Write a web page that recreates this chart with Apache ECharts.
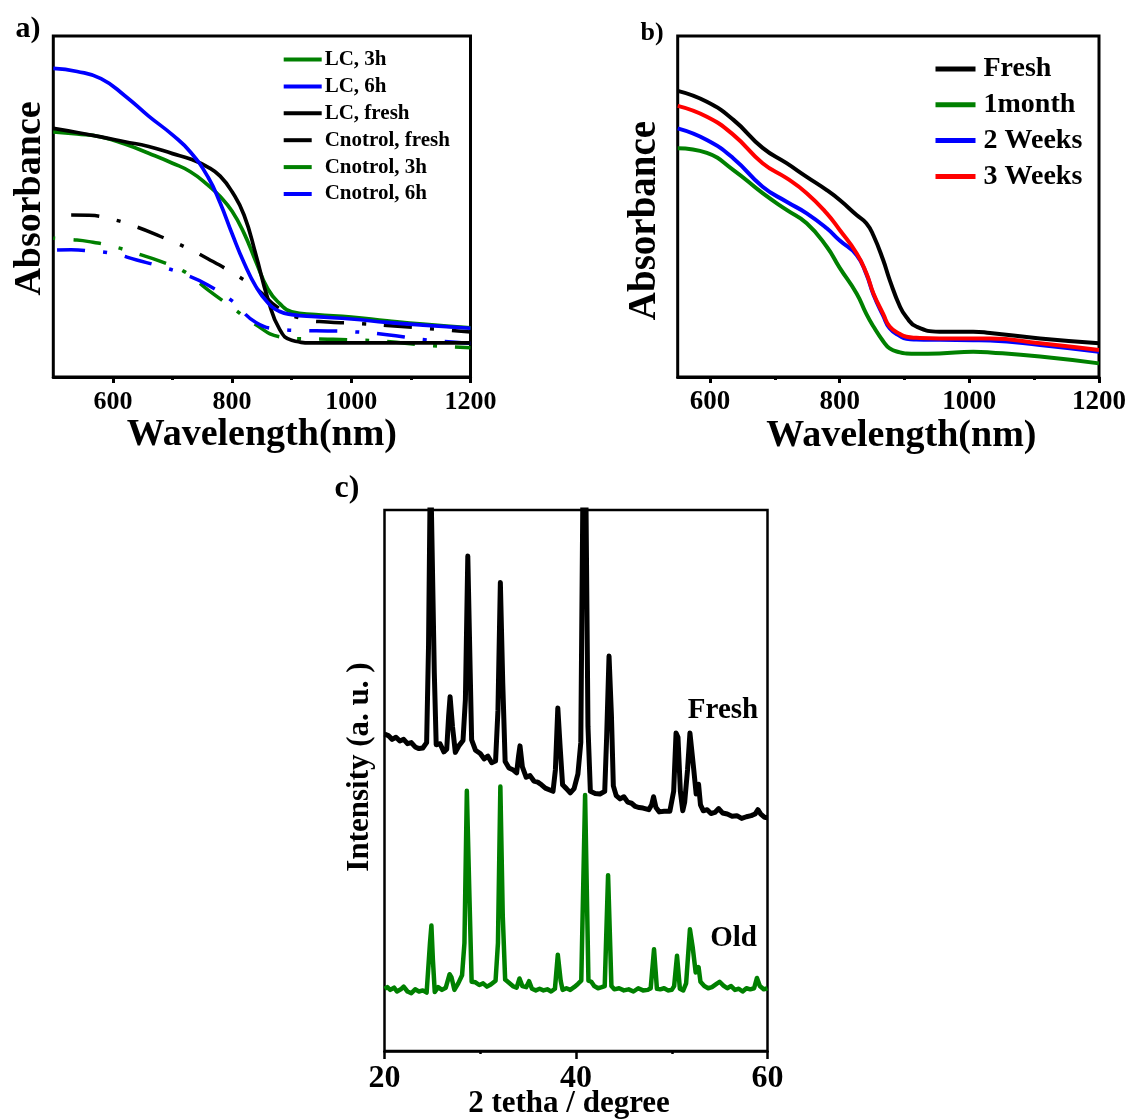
<!DOCTYPE html>
<html>
<head>
<meta charset="UTF-8">
<title>Absorbance and XRD</title>
<script src="https://cdn.jsdelivr.net/npm/echarts@6.0.0/dist/echarts.min.js"></script>
<style>
html, body { margin: 0; padding: 0; background: #fff; }
#chart { width: 1133px; height: 1120px; }
</style>
<script>
// a) absorbance, LC samples
var aWl = [500, 540, 580, 620, 660, 700, 730, 760, 780, 800, 820, 840, 860, 880, 900, 940, 1000, 1060, 1120, 1200];
var aLc3h = [71.9, 71.3, 70.4, 68.3, 65.6, 62.7, 60.2, 56.2, 52.9, 48.6, 42.2, 33.8, 25.8, 21.5, 19.1, 18.3, 17.6, 16.5, 15.5, 14.4];
var aLc6h = [90.5, 89.6, 87.5, 82.5, 76.5, 71.0, 66.0, 58.5, 51.0, 42.0, 33.5, 26.5, 21.8, 19.2, 18.3, 17.7, 17.0, 16.0, 15.2, 14.3];
var aLcFresh = [72.9, 71.7, 70.4, 69.0, 67.6, 65.5, 63.9, 61.5, 58.9, 54.3, 47.5, 35.8, 22.9, 13.9, 10.8, 10.0, 10.0, 10.0, 10.0, 10.0];
// a) absorbance, control samples
var aCtlWl = [500, 530, 560, 600, 640, 680, 720, 760, 800, 840, 880, 920, 960, 1000, 1060, 1120, 1200];
var aCtlFresh = [null, 47.5, 47.4, 46.2, 44.0, 41.2, 38.2, 34.6, 30.6, 26.0, 20.0, 17.0, 16.1, 15.8, 15.1, 14.3, 13.2];
var aCtl3h = [40.7, 40.3, 39.7, 38.3, 36.2, 33.9, 30.9, 25.5, 20.4, 15.3, 11.8, 11.2, 11.1, 10.9, 10.4, 9.4, 8.6];
var aCtl6h = [37.2, 37.3, 37.0, 36.2, 34.3, 32.4, 30.1, 26.9, 22.3, 16.0, 14.0, 13.6, 13.5, 13.3, 12.4, 11.0, 9.9];
var aTicks = [600, 800, 1000, 1200];
var aMinorTicks = [700, 900, 1100];

// b) absorbance vs storage time
var bWl = [550, 595, 636, 681, 718, 749, 780, 800, 826, 841, 852, 867, 877, 893, 903, 918, 954, 1006, 1032, 1109, 1200];
var bFresh = [83.9, 80.7, 75.4, 67.2, 62.7, 58.7, 54.8, 51.9, 47.5, 45.1, 41.5, 34.3, 28.5, 20.6, 17.5, 14.8, 13.3, 13.3, 12.9, 11.3, 9.9];
var b1Month = [67.1, 65.7, 60.7, 53.9, 49.0, 45.1, 38.2, 32.0, 24.5, 18.5, 14.8, 10.5, 8.4, 7.2, 6.9, 6.8, 6.9, 7.4, 7.2, 6.0, 4.0];
var b2Weeks = [72.9, 69.5, 64.1, 55.8, 51.4, 48.0, 43.6, 40.0, 35.8, 30.2, 24.2, 18.0, 14.3, 12.0, 11.2, 11.0, 10.9, 10.8, 10.7, 9.4, 7.4];
var b3Weeks = [79.5, 76.3, 71.0, 62.7, 58.3, 53.9, 48.0, 43.1, 36.3, 30.5, 24.5, 18.5, 14.8, 12.6, 11.8, 11.5, 11.3, 11.3, 11.3, 9.9, 7.9];
var bTicks = [600, 800, 1000, 1200];
var bMinorTicks = [700, 900, 1100];

// c) XRD
var cFreshX = [20.0, 20.4, 20.8, 21.2, 21.6, 22.0, 22.4, 22.8, 23.2, 23.6, 24.0, 24.4, 24.6, 24.8, 25.0, 25.2, 25.4, 25.8, 26.2, 26.5,
  26.7, 26.85, 27.1, 27.4, 27.8, 28.2, 28.45, 28.7, 28.95, 29.1, 29.5, 30.0, 30.4, 30.8, 31.2, 31.6, 31.85, 32.1, 32.35, 32.6,
  33.0, 33.4, 33.8, 34.0, 34.15, 34.4, 34.8, 35.2, 35.6, 36.0, 36.4, 36.8, 37.2, 37.6, 37.85, 38.1, 38.35, 38.6, 39.0, 39.4,
  39.8, 40.2, 40.5, 40.75, 41.0, 41.25, 41.5, 42.0, 42.5, 43.0, 43.2, 43.45, 43.7, 43.9, 44.2, 44.6, 45.0, 45.4, 45.8, 46.2,
  46.6, 47.0, 47.6, 47.9, 48.1, 48.35, 48.7, 49.2, 49.8, 50.2, 50.45, 50.65, 50.9, 51.15, 51.35, 51.65, 51.9, 52.05, 52.3, 52.55,
  52.8, 53.0, 53.3, 53.7, 54.1, 54.5, 54.9, 55.3, 55.8, 56.3, 56.8, 57.3, 57.8, 58.3, 58.7, 59.0, 59.3, 59.7, 60.0];
var cFreshY = [58.6, 58.3, 57.6, 58.0, 57.3, 57.6, 56.8, 57.0, 56.2, 55.9, 56.0, 57.0, 75.0, 110.0, 110.0, 70.0, 56.6, 56.8, 55.3, 55.8,
  62.0, 65.5, 60.0, 55.2, 56.5, 57.4, 65.0, 91.5, 70.0, 57.5, 55.6, 55.0, 54.0, 54.5, 53.3, 53.6, 63.0, 86.6, 68.0, 53.5,
  52.3, 52.0, 51.4, 54.5, 56.4, 52.5, 50.6, 50.9, 49.9, 49.7, 49.2, 48.6, 48.3, 48.0, 52.0, 63.4, 56.0, 49.2, 48.5, 47.7,
  48.5, 51.2, 57.0, 110.0, 110.0, 60.0, 48.0, 47.6, 47.5, 48.0, 58.0, 73.0, 62.0, 49.0, 47.2, 46.6, 47.0, 46.0, 45.8, 45.2,
  45.0, 44.9, 44.6, 45.5, 47.0, 45.0, 44.2, 44.3, 44.3, 48.0, 58.8, 58.0, 48.0, 44.4, 46.0, 52.0, 58.8, 58.5, 52.0, 47.5,
  49.3, 45.5, 44.4, 44.6, 43.9, 44.1, 44.8, 44.0, 43.8, 43.4, 43.5, 43.0, 43.3, 43.5, 43.8, 44.6, 43.8, 43.2, 43.1];
var cOldX = [20.0, 20.3, 20.6, 21.0, 21.3, 21.7, 22.0, 22.4, 22.8, 23.2, 23.6, 24.0, 24.4, 24.6, 24.75, 24.9, 25.05, 25.25, 25.6, 26.0,
  26.4, 26.8, 27.0, 27.3, 27.7, 28.1, 28.35, 28.6, 28.85, 29.1, 29.5, 29.9, 30.3, 30.7, 31.1, 31.6, 31.85, 32.1, 32.35, 32.6,
  33.0, 33.4, 33.8, 34.1, 34.4, 34.8, 35.1, 35.4, 35.8, 36.2, 36.6, 37.0, 37.4, 37.8, 38.1, 38.4, 38.6, 39.0, 39.4, 39.8,
  40.2, 40.55, 40.95, 41.3, 41.6, 41.9, 42.3, 42.7, 43.0, 43.35, 43.7, 44.0, 44.5, 45.0, 45.5, 46.0, 46.5, 47.0, 47.5, 47.8,
  48.15, 48.45, 48.8, 49.2, 49.6, 50.0, 50.25, 50.55, 50.85, 51.2, 51.5, 51.9, 52.2, 52.5, 52.8, 53.0, 53.4, 53.8, 54.2, 54.6,
  55.0, 55.4, 55.8, 56.2, 56.6, 57.0, 57.4, 57.8, 58.2, 58.6, 58.9, 59.2, 59.6, 60.0];
var cOldY = [11.5, 11.8, 11.3, 11.7, 11.0, 11.4, 11.9, 11.0, 10.7, 11.4, 11.0, 11.2, 10.8, 11.0, 20.0, 23.2, 17.0, 10.9, 11.8, 11.3,
  11.7, 14.2, 13.6, 11.3, 12.5, 14.0, 20.0, 48.1, 30.0, 12.8, 12.7, 12.2, 12.5, 11.9, 12.3, 13.0, 20.0, 48.9, 25.0, 13.2,
  12.6, 12.0, 11.7, 13.4, 12.0, 11.8, 12.9, 11.5, 11.2, 11.5, 11.2, 11.4, 11.0, 11.5, 17.8, 13.0, 11.3, 11.6, 11.3, 11.8,
  12.4, 13.0, 47.3, 13.0, 12.8, 12.0, 11.6, 11.8, 12.0, 32.5, 12.0, 11.4, 11.6, 11.2, 11.4, 11.0, 11.6, 11.2, 11.3, 11.6,
  18.8, 11.5, 11.4, 11.6, 11.2, 11.3, 12.0, 17.6, 11.5, 11.2, 12.5, 22.5, 19.0, 14.5, 15.5, 12.8, 12.0, 11.6, 11.8, 12.3,
  12.8, 12.1, 11.6, 12.0, 11.3, 11.5, 11.0, 11.6, 11.4, 11.6, 13.5, 12.0, 11.4, 11.6];
var cTicks = [20, 40, 60];
var cMinorTicks = [30, 50];

var FONT = 'Liberation Serif';
var GREEN = '#008000', BLUE = '#0000ff', RED = '#ff0000', BLACK = '#000000';
var CTL_DASH = [28, 18, 4, 18];

function pairs(xs, ys) {
  var out = [];
  for (var i = 0; i < xs.length; i++) out.push([xs[i], ys[i]]);
  return out;
}

function boldText(size, extra) {
  var s = { fontFamily: FONT, fontWeight: 'bold', fontSize: size, color: '#000' };
  for (var k in extra) s[k] = extra[k];
  return s;
}

function majorAxis(grid, min, max, ticks, tickLen, labelSize, lineW, name, nameSize, nameGap, namePad, moveName) {
  return {
    gridIndex: grid, type: 'value', position: 'bottom', min: min, max: max,
    axisLine: { onZero: false, lineStyle: { color: '#000', width: lineW } },
    axisTick: { customValues: ticks, length: tickLen, lineStyle: { color: '#000', width: lineW } },
    axisLabel: {
      customValues: ticks, margin: 12, fontFamily: FONT, fontWeight: 'bold', fontSize: labelSize, color: '#000',
      formatter: function (v) { return String(v); }
    },
    splitLine: { show: false },
    name: name, nameLocation: 'middle', nameGap: nameGap, nameMoveOverlap: moveName,
    nameTextStyle: boldText(nameSize, { padding: namePad })
  };
}

function minorAxis(grid, min, max, ticks, lineW) {
  return {
    gridIndex: grid, type: 'value', position: 'bottom', min: min, max: max,
    axisLine: { show: false, onZero: false },
    axisTick: { customValues: ticks, length: 3, lineStyle: { color: '#000', width: lineW } },
    axisLabel: { show: false },
    splitLine: { show: false }
  };
}

function plainY(grid, name, nameGap, size, namePad) {
  return {
    gridIndex: grid, type: 'value', min: 0, max: 100,
    axisLine: { show: false }, axisTick: { show: false }, axisLabel: { show: false }, splitLine: { show: false },
    name: name, nameLocation: 'middle', nameGap: nameGap,
    nameTextStyle: boldText(size, { padding: namePad })
  };
}

function line(name, xi, yi, data, color, width, smooth, dash, dashOffset) {
  return {
    name: name, type: 'line', xAxisIndex: xi, yAxisIndex: yi, data: data,
    symbol: 'none', smooth: smooth,
    lineStyle: { color: color, width: width, type: dash || 'solid', dashOffset: dashOffset || 0, join: 'round' },
    itemStyle: { color: color },
    emphasis: { disabled: true }
  };
}
</script>
</head>
<body>
<div id="chart"></div>
<script>
var chart = echarts.init(document.getElementById('chart'), null, { renderer: 'canvas' });

var option = {
  animation: false,
  backgroundColor: '#fff',
  grid: [
    { left: 53.3, top: 36, width: 417.2, height: 341, show: true, borderColor: '#000', borderWidth: 3, outerBoundsMode: 'none' },
    { left: 677.7, top: 36, width: 421.3, height: 341, show: true, borderColor: '#000', borderWidth: 3, outerBoundsMode: 'none' },
    { left: 384.5, top: 510, width: 383, height: 541, show: true, borderColor: '#000', borderWidth: 2.5, outerBoundsMode: 'none' }
  ],
  xAxis: [
    majorAxis(0, 500, 1200, aTicks, 6, 26, 3, 'Wavelength(nm)', 38, 33, [0, 0, 0, 0], true),
    minorAxis(0, 500, 1200, aMinorTicks, 3),
    majorAxis(1, 550, 1200, bTicks, 6, 27, 3, 'Wavelength(nm)', 38, 33, [0, 0, 0, 26], true),
    minorAxis(1, 550, 1200, bMinorTicks, 3),
    majorAxis(2, 20, 60, cTicks, 8, 32, 2.5, '2 tetha / degree', 31, 37, [0, 14, 0, 0], false),
    minorAxis(2, 20, 60, cMinorTicks, 2.5)
  ],
  yAxis: [
    plainY(0, 'Absorbance', 4, 38, [0, 0, 0, 16]),
    plainY(1, 'Absorbance', 13, 39, [0, 28, 0, 0]),
    plainY(2, 'Intensity (a. u. )', 9, 31, [0, 0, 0, 27])
  ],
  legend: [
    {
      data: ['LC, 3h', 'LC, 6h', 'LC, fresh', 'Cnotrol, fresh', 'Cnotrol, 3h', 'Cnotrol, 6h'],
      orient: 'vertical', left: 281.7, top: 49, padding: 0,
      itemWidth: 38, itemHeight: 14, itemGap: 5.9, selectedMode: false,
      itemStyle: { opacity: 0 },
      lineStyle: { width: 4, dashOffset: 0 },
      textStyle: boldText(21, { lineHeight: 20, padding: [0, 0, 0, -2] })
    },
    {
      data: ['Fresh', '1month', '2 Weeks', '3 Weeks'],
      orient: 'vertical', left: 933, top: 55, padding: 0,
      itemWidth: 40, itemHeight: 14, itemGap: 7.8, selectedMode: false,
      itemStyle: { opacity: 0 },
      lineStyle: { width: 5 },
      textStyle: boldText(28, { lineHeight: 28, padding: [0, 0, 0, 3] })
    }
  ],
  graphic: [
    { type: 'text', x: 28, y: 29, style: { text: 'a)', fontFamily: FONT, fontWeight: 'bold', fontSize: 30, fill: '#000', align: 'center', verticalAlign: 'middle' } },
    { type: 'text', x: 652, y: 33, style: { text: 'b)', fontFamily: FONT, fontWeight: 'bold', fontSize: 26, fill: '#000', align: 'center', verticalAlign: 'middle' } },
    { type: 'text', x: 347, y: 489, style: { text: 'c)', fontFamily: FONT, fontWeight: 'bold', fontSize: 32, fill: '#000', align: 'center', verticalAlign: 'middle' } },
    { type: 'text', x: 723, y: 711, style: { text: 'Fresh', fontFamily: FONT, fontWeight: 'bold', fontSize: 29, fill: '#000', align: 'center', verticalAlign: 'middle' } },
    { type: 'text', x: 733.5, y: 939, style: { text: 'Old', fontFamily: FONT, fontWeight: 'bold', fontSize: 29, fill: '#000', align: 'center', verticalAlign: 'middle' } }
  ],
  series: [
    line('Cnotrol, fresh', 0, 0, pairs(aCtlWl, aCtlFresh), BLACK, 3.5, 0.5, CTL_DASH, 0),
    line('Cnotrol, 3h', 0, 0, pairs(aCtlWl, aCtl3h), GREEN, 3.5, 0.5, CTL_DASH, 48),
    line('Cnotrol, 6h', 0, 0, pairs(aCtlWl, aCtl6h), BLUE, 3.5, 0.5, CTL_DASH, 64),
    line('LC, 3h', 0, 0, pairs(aWl, aLc3h), GREEN, 3.7, 0.5),
    line('LC, fresh', 0, 0, pairs(aWl, aLcFresh), BLACK, 3.7, 0.5),
    line('LC, 6h', 0, 0, pairs(aWl, aLc6h), BLUE, 3.7, 0.5),

    line('1month', 2, 1, pairs(bWl, b1Month), GREEN, 4, 0.5),
    line('2 Weeks', 2, 1, pairs(bWl, b2Weeks), BLUE, 4, 0.5),
    line('3 Weeks', 2, 1, pairs(bWl, b3Weeks), RED, 4, 0.5),
    line('Fresh', 2, 1, pairs(bWl, bFresh), BLACK, 4, 0.5),

    line('XRD fresh', 4, 2, pairs(cFreshX, cFreshY), BLACK, 5, false),
    line('XRD old', 4, 2, pairs(cOldX, cOldY), GREEN, 4.5, false)
  ]
};

chart.setOption(option);
</script>
</body>
</html>
